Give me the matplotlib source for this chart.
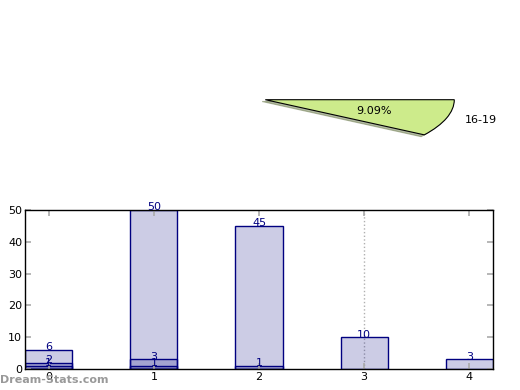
import matplotlib
matplotlib.use("Agg")
import matplotlib.pyplot as plt

# pie part (single wedge, not normalised)
pie_labels = ["16-19"]
pie_values = [1 / 11]

# overlapping bars, drawn from the back to the front
bar_x = [0, 1, 2, 3, 4]
series = [
    [6, 50, 45, 10, 3],
    [2, 3, 1, 0, 0],
    [1, 1, 0, 0, 0],
]

fig = plt.figure(figsize=(5.2, 3.9), dpi=100)

# pie axes, stretched (aspect not equal)
axp = fig.add_axes([0.0558, 0.536, 0.9087, 0.4167])
axp.pie(pie_values, labels=pie_labels, autopct="%.2f%%", normalize=False,
        counterclock=False, startangle=0,
        shadow={"ox": -0.012, "oy": -0.02, "shade": 0.5},
        colors=["#cdeb8b"], wedgeprops={"edgecolor": "black", "linewidth": 0.8},
        textprops={"fontsize": 8})
axp.set_aspect("auto")
axp.set_xlim(-1.25, 1.25)
axp.set_ylim(-1.25, 1.25)
axp.axis("off")

# bar axes
ax = fig.add_axes([25 / 520, 21 / 390, 468 / 520, 159 / 390])
for vals in series:
    for x, v in zip(bar_x, vals):
        if v <= 0:
            continue
        ax.bar(x, v, width=0.45, color=(0, 0, 0.5, 0.2), edgecolor="navy", linewidth=1)
        ax.text(x, v + 0.8, str(v), ha="center", va="center", color="navy", fontsize=8)

ax.axvline(3, color="#b0b0b0", linestyle=":", linewidth=1, zorder=0)
ax.set_xlim(-0.225, 4.225)
ax.set_ylim(0, 50)
ax.set_xticks(bar_x)
ax.set_yticks([0, 10, 20, 30, 40, 50])
ax.tick_params(direction="in", color="#aaaaaa", length=4, width=1.2,
               top=True, right=True, labelsize=8, pad=2)
for s in ax.spines.values():
    s.set_linewidth(1)

fig.text(0.0, 0.012, "Dream-Stats.com", color="#999999", fontsize=8, fontweight="bold",
         ha="left", va="bottom")

fig.savefig("out.png", dpi=100)
